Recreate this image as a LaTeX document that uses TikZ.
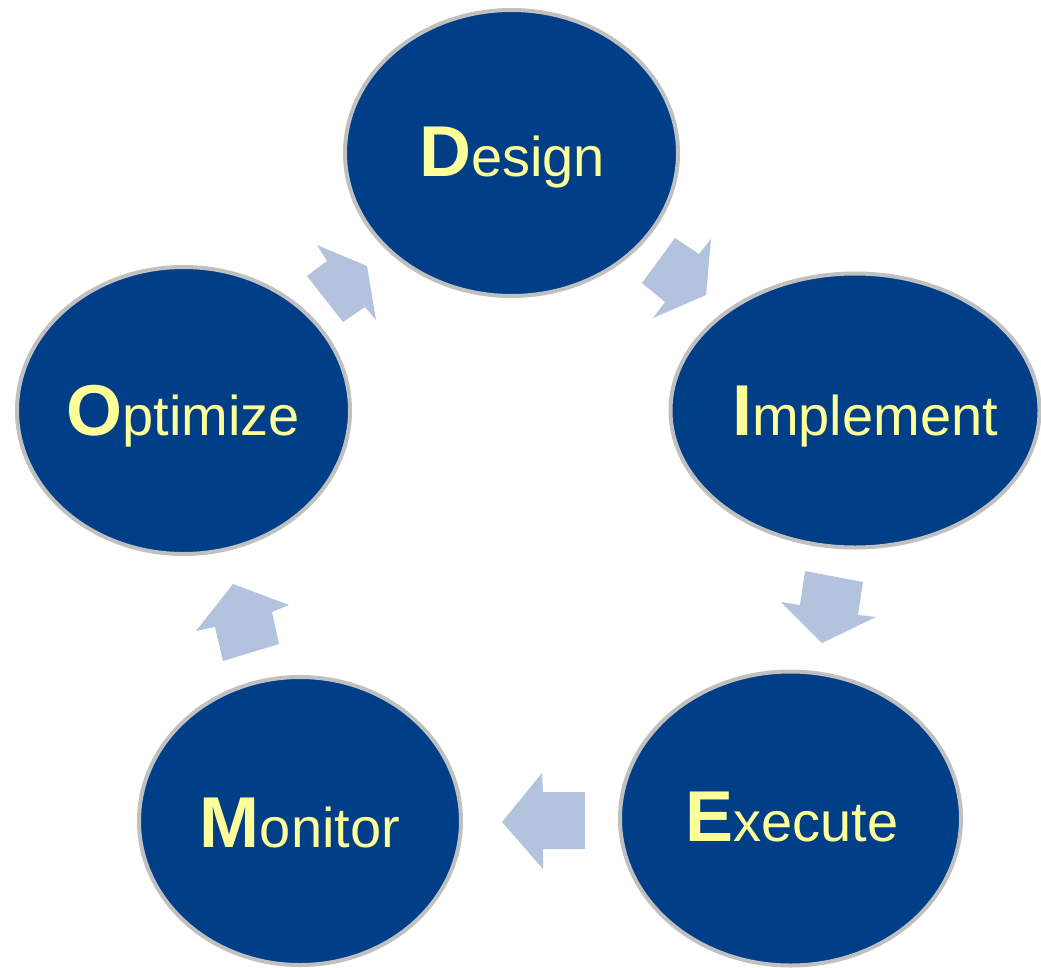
\documentclass[tikz,border=0pt]{standalone}
\usepackage{fontspec}
\setmainfont{Liberation Sans}
\usetikzlibrary{shapes.geometric}
\definecolor{cycblue}{HTML}{003F87}
\definecolor{cycgray}{HTML}{C0C0C0}
\definecolor{cycarrow}{HTML}{B3C2DD}
\definecolor{cyctext}{HTML}{FFFF99}
\newcommand{\cyclabel}[2]{{\fontsize{72}{72}\selectfont\bfseries #1}{\fontsize{56}{56}\selectfont #2}}
\begin{document}
\begin{tikzpicture}[x=1pt,y=-1pt,
  stage/.style={ellipse, draw=cycgray, line width=4pt, fill=cycblue, inner sep=0pt},
  lab/.style={anchor=base, text=cyctext, inner sep=0pt},
  blockarrow/.style={fill=cycarrow, draw=none}]
\useasboundingbox (0,0) rectangle (1041,967);
% stages
\node[stage, minimum width=333pt, minimum height=286pt] (design) at (511.5,153) {};
\node[stage, minimum width=369pt, minimum height=274pt] (implement) at (855,410.5) {};
\node[stage, minimum width=341pt, minimum height=294pt] (execute) at (790.5,818.5) {};
\node[stage, minimum width=322pt, minimum height=288pt] (monitor) at (300,821) {};
\node[stage, minimum width=333pt, minimum height=287pt] (optimize) at (183.5,410.5) {};
% labels
\node[lab] (design-t) at (512,176) {\cyclabel{D}{esign}};
\node[lab] (implement-t) at (865,435) {\cyclabel{I}{mplement}};
\node[lab] (execute-t) at (792,841) {\cyclabel{E}{xecute}};
\node[lab] (monitor-t) at (300,847) {\cyclabel{M}{onitor}};
\node[lab] (optimize-t) at (183,435) {\cyclabel{O}{ptimize}};
% block arrows
\fill[blockarrow] (675,238) -- (699,254) -- (711,239) -- (706,295) -- (653,318) -- (665,302) -- (642,283) -- cycle;
\fill[blockarrow] (805,571) -- (863,582) -- (858,615) -- (876,617) -- (822,643) -- (781,602) -- (800,605) -- cycle;
\fill[blockarrow] (585,792) -- (543,792) -- (542,773) -- (502,822) -- (543,869) -- (543,849) -- (585,849) -- cycle;
\fill[blockarrow] (223,661) -- (215,627) -- (196,631) -- (233,584) -- (289,605) -- (272,612) -- (279,644) -- cycle;
\fill[blockarrow] (307,276) -- (327,261) -- (317,245) -- (367,266) -- (376,320) -- (365,307) -- (343,322) -- cycle;
\end{tikzpicture}
\end{document}
